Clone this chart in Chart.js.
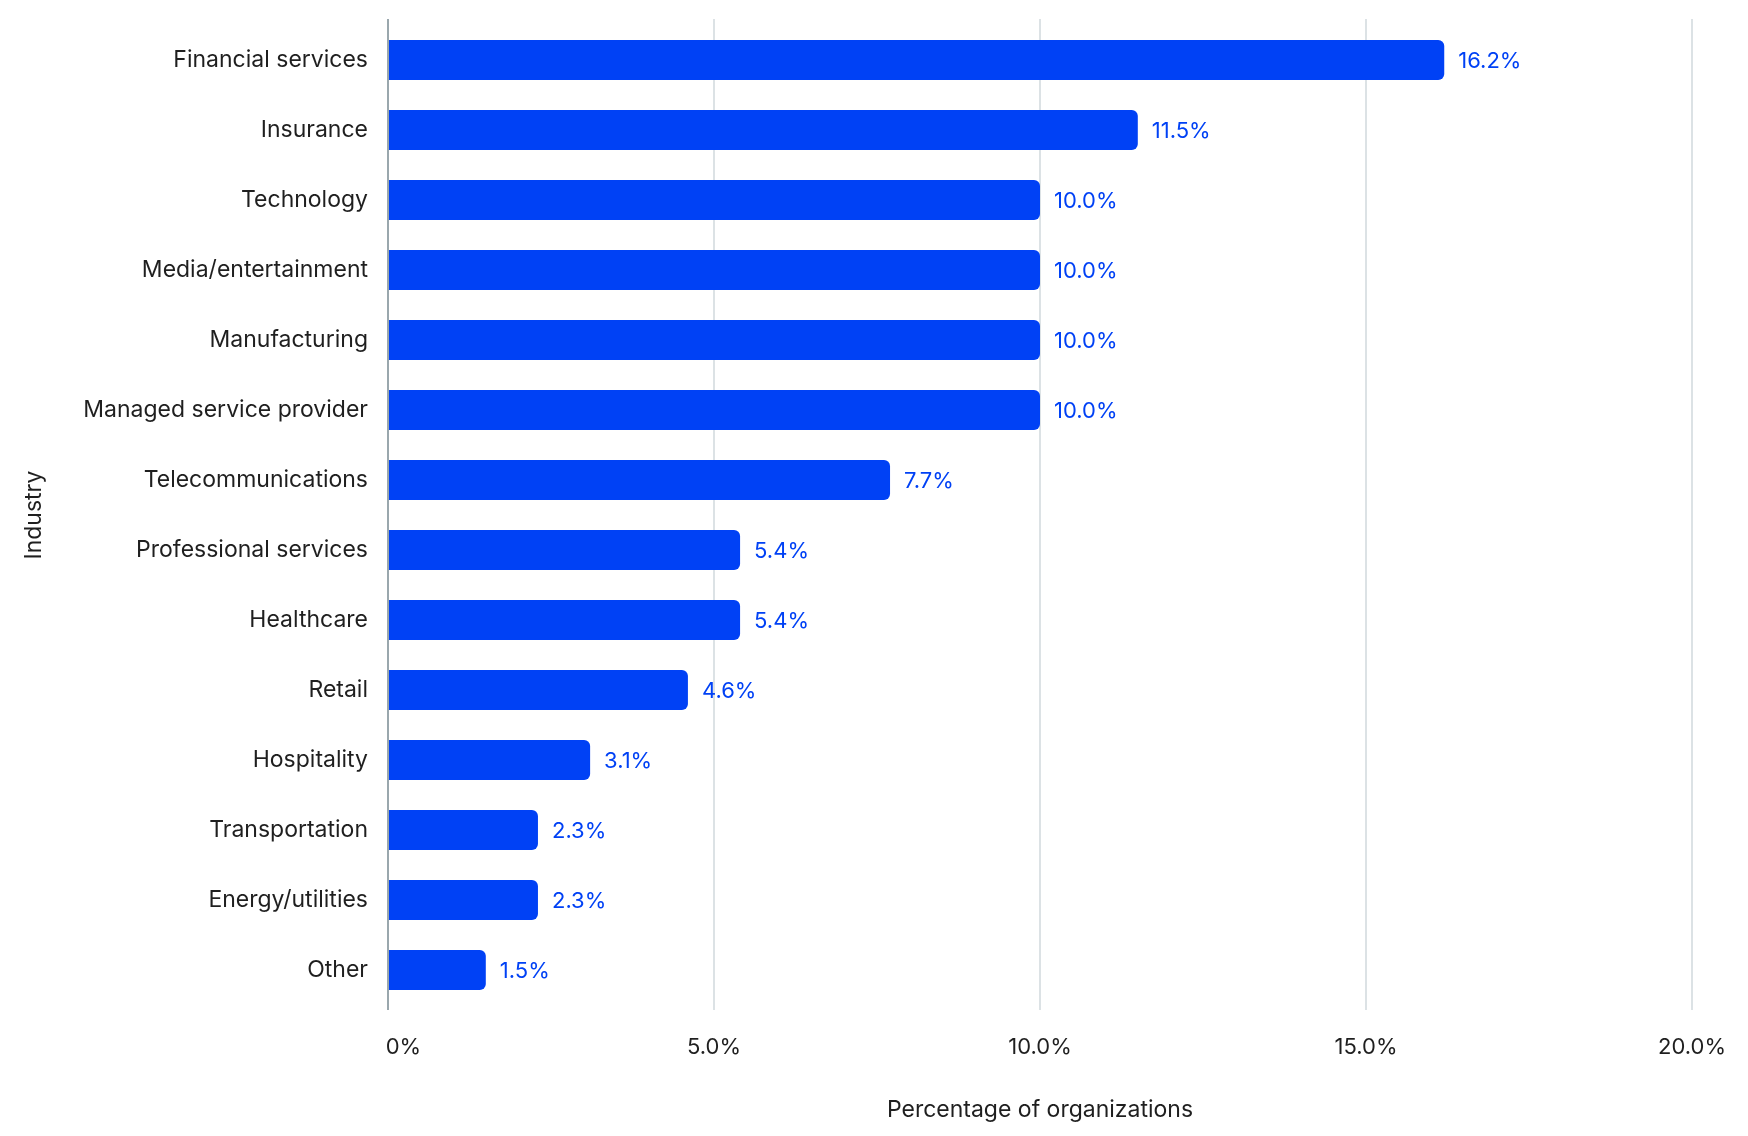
<!DOCTYPE html>
<html>
<head>
<meta charset="utf-8">
<script src="https://cdn.jsdelivr.net/npm/chart.js@4.4.1/dist/chart.umd.min.js"></script>
<style>
  html, body { margin: 0; padding: 0; background: #fff; }
  #wrap { width: 1748px; height: 1136px; position: relative; }
</style>
</head>
<body>
<div id="wrap"><canvas id="chart"></canvas></div>
<script>
const industries = [
  'Financial services', 'Insurance', 'Technology', 'Media/entertainment',
  'Manufacturing', 'Managed service provider', 'Telecommunications',
  'Professional services', 'Healthcare', 'Retail', 'Hospitality',
  'Transportation', 'Energy/utilities', 'Other'
];
const shares = [16.2, 11.5, 10.0, 10.0, 10.0, 10.0, 7.7, 5.4, 5.4, 4.6, 3.1, 2.3, 2.3, 1.5];
const xTicks = [0, 5, 10, 15, 20];

const blue = '#0041f5';
const ink = '#1f1f1f';
const gridColor = '#dce2e5';
const axisColor = '#9aa7ad';
const font = 'Inter, "Noto Sans", sans-serif';

// value labels at the end of each bar
const barLabels = {
  id: 'barLabels',
  afterDatasetsDraw(chart) {
    const ctx = chart.ctx;
    const meta = chart.getDatasetMeta(0);
    ctx.save();
    ctx.font = '22px ' + font;
    ctx.fillStyle = blue;
    ctx.textAlign = 'left';
    ctx.textBaseline = 'middle';
    meta.data.forEach((bar, i) => {
      ctx.fillText(shares[i].toFixed(1) + '%', bar.x + 14, bar.y + 1);
    });
    ctx.restore();
  }
};

// grid lines in the source run a little past the bar area at both ends
const gridOverhang = {
  id: 'gridOverhang',
  beforeDatasetsDraw(chart) {
    const ctx = chart.ctx;
    const area = chart.chartArea;
    const x = chart.scales.x;
    ctx.save();
    ctx.lineWidth = 2;
    xTicks.forEach(v => {
      const px = x.getPixelForValue(v);
      ctx.strokeStyle = v === 0 ? axisColor : gridColor;
      ctx.beginPath();
      ctx.moveTo(px, area.top - 6);
      ctx.lineTo(px, area.top);
      ctx.moveTo(px, area.bottom);
      ctx.lineTo(px, area.bottom + 5);
      ctx.stroke();
    });
    ctx.restore();
  }
};

new Chart(document.getElementById('chart'), {
  type: 'bar',
  data: {
    labels: industries,
    datasets: [{
      data: shares,
      backgroundColor: blue,
      borderRadius: 6,
      borderSkipped: 'start',
      barPercentage: 0.57,
      categoryPercentage: 1.0
    }]
  },
  options: {
    indexAxis: 'y',
    responsive: true,
    maintainAspectRatio: false,
    animation: false,
    layout: { padding: { top: 25, right: 56, left: 0, bottom: 0 } },
    plugins: {
      legend: { display: false },
      tooltip: { enabled: false }
    },
    scales: {
      x: {
        min: 0,
        max: 20,
        afterBuildTicks(scale) {
          scale.ticks = xTicks.map(v => ({ value: v }));
        },
        afterFit(scale) {
          scale.height = 131;
          scale.paddingLeft = 0;
          scale.paddingRight = 0;
        },
        grid: {
          color: gridColor,
          lineWidth: 2,
          drawTicks: false
        },
        border: { display: false },
        ticks: {
          padding: 29,
          color: ink,
          font: { family: font, size: 22 },
          // first label sits to the right of the axis, as in the source
          callback: v => v === 0 ? '     0%' : v.toFixed(1) + '%'
        },
        title: {
          display: true,
          text: 'Percentage of organizations',
          color: ink,
          font: { family: font, size: 23 },
          padding: { top: 20, bottom: 12 }
        }
      },
      y: {
        afterFit(scale) {
          scale.width = 388;
          scale.paddingTop = 0;
          scale.paddingBottom = 0;
        },
        grid: { display: false, drawTicks: false },
        border: { display: true, color: axisColor, width: 2 },
        ticks: {
          padding: 20,
          color: ink,
          font: { family: font, size: 23 }
        },
        title: {
          display: true,
          text: 'Industry',
          color: ink,
          font: { family: font, size: 23 },
          padding: { top: 20, bottom: 0 }
        }
      }
    }
  },
  plugins: [barLabels, gridOverhang]
});
</script>
</body>
</html>
